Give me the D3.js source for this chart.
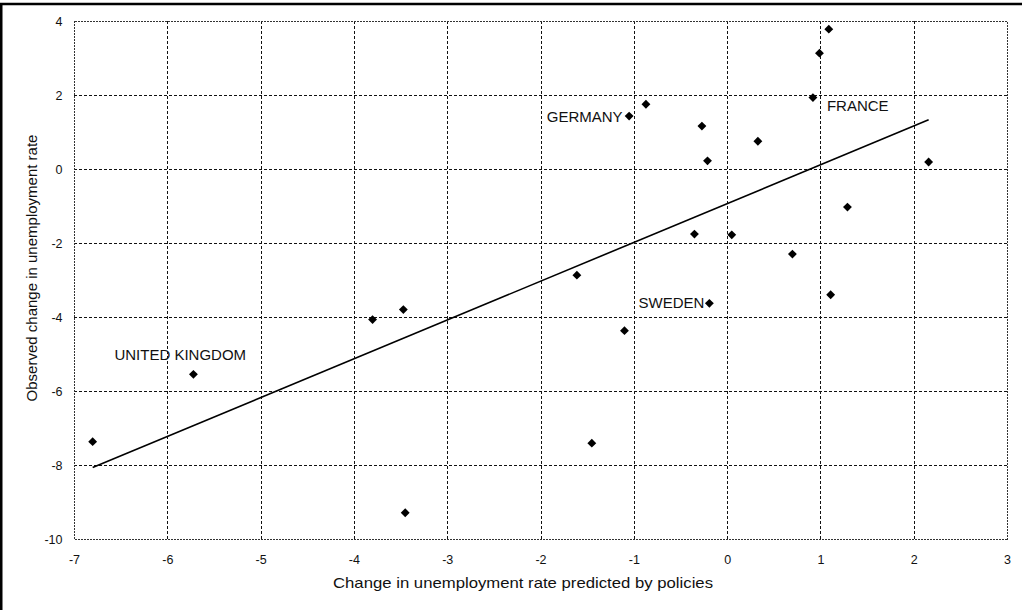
<!DOCTYPE html>
<html>
<head>
<meta charset="utf-8">
<script src="https://cdn.jsdelivr.net/npm/d3@7"></script>
<style>
  html, body { margin: 0; padding: 0; background: #fff; }
  svg { display: block; font-family: "Liberation Sans", Arial, sans-serif; }
</style>
</head>
<body>
<svg id="chart" width="1022" height="610"></svg>
<script>
// Change in unemployment rate predicted by policies (x) vs. observed change (y)
const predicted = [-6.80, -5.72, -3.80, -3.47, -3.45, -1.61, -1.45, -1.10, -1.05, -0.87, -0.35, -0.27,
                   -0.21, -0.19, 0.05, 0.33, 0.70, 0.92, 0.99, 1.09, 1.11, 1.29, 2.16];
const observed  = [-7.37, -5.55, -4.07, -3.80, -9.29, -2.87, -7.41, -4.37, 1.43, 1.75, -1.76, 1.16,
                   0.22, -3.63, -1.78, 0.75, -2.30, 1.93, 3.13, 3.78, -3.40, -1.03, 0.19];
const country   = [null, "UNITED KINGDOM", null, null, null, null, null, null, "GERMANY", null, null, null,
                   null, "SWEDEN", null, null, null, "FRANCE", null, null, null, null, null];

const xTicks = [-7, -6, -5, -4, -3, -2, -1, 0, 1, 2, 3];
const yTicks = [4, 2, 0, -2, -4, -6, -8, -10];

const xTitle = "Change in unemployment rate predicted by policies";
const yTitle = "Observed change in unemployment rate";

const svg = d3.select("#chart");
const W = 1022, H = 610;
const plot = { left: 74, top: 21, right: 1007, bottom: 539 };

const x = d3.scaleLinear().domain([-7, 3]).range([plot.left, plot.right]);
const y = d3.scaleLinear().domain([-10, 4]).range([plot.bottom, plot.top]);

svg.append("rect").attr("width", W).attr("height", H).attr("fill", "#fff");

// outer frame (left and top edges)
svg.append("path")
  .attr("d", `M1.2,${H} V4 H${W}`)
  .attr("fill", "none").attr("stroke", "#000").attr("stroke-width", 2.6);

// grid
const grid = svg.append("g").attr("stroke", "#111").attr("stroke-width", 1)
  .attr("stroke-dasharray", "3,2").attr("fill", "none").attr("shape-rendering", "crispEdges");
grid.selectAll("line.v").data(xTicks.slice(1, -1)).join("line")
  .attr("x1", d => Math.round(x(d)) + 0.5).attr("x2", d => Math.round(x(d)) + 0.5)
  .attr("y1", plot.top).attr("y2", plot.bottom);
grid.selectAll("line.h").data(yTicks.slice(1, -1)).join("line")
  .attr("y1", d => Math.round(y(d)) + 0.5).attr("y2", d => Math.round(y(d)) + 0.5)
  .attr("x1", plot.left).attr("x2", plot.right);

// plot frame
svg.append("rect")
  .attr("x", plot.left + 0.5).attr("y", plot.top + 0.5)
  .attr("width", plot.right - plot.left).attr("height", plot.bottom - plot.top)
  .attr("fill", "none").attr("stroke", "#333").attr("stroke-width", 1.4)
  .attr("stroke-dasharray", "2,1").attr("shape-rendering", "crispEdges");

// axes (labels only, plain hyphen for negatives)
const fmt = d => String(d);
const xAxis = svg.append("g").attr("transform", `translate(0,${plot.bottom})`)
  .call(d3.axisBottom(x).tickValues(xTicks).tickFormat(fmt).tickSize(0).tickPadding(16));
const yAxis = svg.append("g").attr("transform", `translate(${plot.left},0)`)
  .call(d3.axisLeft(y).tickValues(yTicks).tickFormat(fmt).tickSize(0).tickPadding(11.5));
[xAxis, yAxis].forEach(g => {
  g.select(".domain").remove();
  g.selectAll("text").attr("font-size", 12.5).attr("fill", "#111")
    .attr("font-family", "'Liberation Sans', Arial, sans-serif");
});

// least-squares fit across the observed range of x
const n = predicted.length;
const mx = d3.mean(predicted), my = d3.mean(observed);
let sxy = 0, sxx = 0;
for (let i = 0; i < n; i++) {
  sxy += (predicted[i] - mx) * (observed[i] - my);
  sxx += (predicted[i] - mx) ** 2;
}
const slope = sxy / sxx, intercept = my - slope * mx;
const [xmin, xmax] = d3.extent(predicted);
svg.append("line")
  .attr("x1", x(xmin)).attr("y1", y(intercept + slope * xmin))
  .attr("x2", x(xmax)).attr("y2", y(intercept + slope * xmax))
  .attr("stroke", "#000").attr("stroke-width", 1.6);

// points
const pts = d3.range(n).map(i => ({ x: predicted[i], y: observed[i], name: country[i] }));
svg.append("g").selectAll("path").data(pts).join("path")
  .attr("d", d3.symbol(d3.symbolDiamond2, 50))
  .attr("transform", d => `translate(${x(d.x)},${y(d.y)})`)
  .attr("fill", "#000");

// country labels
const placement = {
  "GERMANY":        { dx: -6.5, dy: 6,  anchor: "end" },
  "FRANCE":         { dx: 14,   dy: 13, anchor: "start" },
  "SWEDEN":         { dx: -5,   dy: 4.7, anchor: "end" },
  "UNITED KINGDOM": { dx: -79,  dy: -14, anchor: "start" }
};
svg.append("g").selectAll("text").data(pts.filter(d => d.name)).join("text")
  .attr("x", d => x(d.x) + placement[d.name].dx)
  .attr("y", d => y(d.y) + placement[d.name].dy)
  .attr("text-anchor", d => placement[d.name].anchor)
  .attr("font-size", 15).attr("fill", "#111")
  .text(d => d.name);

// axis titles
svg.append("text")
  .attr("x", 523).attr("y", 588)
  .attr("text-anchor", "middle").attr("font-size", 15).attr("fill", "#111")
  .attr("textLength", 380).attr("lengthAdjust", "spacingAndGlyphs")
  .text(xTitle);
svg.append("text")
  .attr("transform", "translate(36.5,268) rotate(-90)")
  .attr("text-anchor", "middle").attr("font-size", 15).attr("fill", "#111")
  .text(yTitle);
</script>
</body>
</html>
